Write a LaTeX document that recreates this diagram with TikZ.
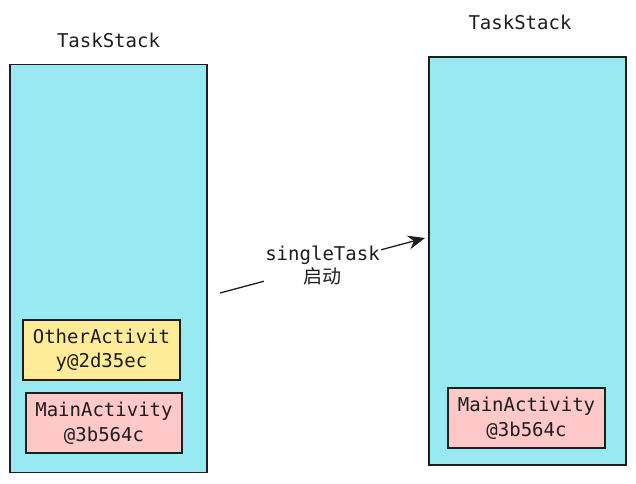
\documentclass[tikz,border=0pt]{standalone}
\usepackage{fontspec}
\setmonofont{DejaVu Sans Mono}
\newfontfamily\cjkfont{Noto Sans CJK SC}
\usetikzlibrary{arrows.meta}
\definecolor{inkline}{HTML}{1E1E1E}
\definecolor{stackcyan}{HTML}{99E9F2}
\definecolor{actyellow}{HTML}{FFEC99}
\definecolor{actpink}{HTML}{FFC9C9}
\begin{document}
\begin{tikzpicture}[x=1pt, y=-1pt]
	\tikzstyle{stack} = [ draw=inkline, fill=stackcyan, line width=1.4pt, minimum width=197pt, minimum height=408pt, inner sep=0pt];
	\tikzstyle{activity} = [ draw=inkline, line width=1.1pt, minimum width=157pt, minimum height=60pt, inner sep=0pt, align=center, font={\ttfamily\fontsize{19}{24.5}\selectfont}, text=inkline];
	\tikzstyle{title} = [ font={\ttfamily\fontsize{19}{23}\selectfont}, text=inkline];
	\tikzstyle{launch} = [ -{Stealth[length=17pt, width=14pt]}, draw=inkline, line width=1.3pt];

	\useasboundingbox (0,0) rectangle (636,483);

	% left task stack
	\node[stack] (leftstack) at (108.5,268.5) {};
	\node[title] (lefttitle) at (108.5,40) {TaskStack};
	\node[activity, fill=actyellow] (other) at (101.5,350) {OtherActivit\\y@2d35ec};
	\node[activity, fill=actpink, minimum width=156pt] (mainL) at (104,423) {MainActivity\\@3b564c};

	% right task stack
	\node[stack] (rightstack) at (527.5,261) {};
	\node[title] (righttitle) at (520,22) {TaskStack};
	\node[activity, fill=actpink] (mainR) at (526.5,418) {MainActivity\\@3b564c};

	% launch in singleTask mode
	\coordinate (from) at (220,293);
	\coordinate (to) at (425,238);
	\draw[launch] (from) -- node[fill=white, inner sep=1pt, align=center, text=inkline] (modelabel) {{\ttfamily\fontsize{19}{23}\selectfont singleTask}\\[1pt]{\cjkfont\fontsize{19}{22}\selectfont 启动}} (to);
\end{tikzpicture}
\end{document}
